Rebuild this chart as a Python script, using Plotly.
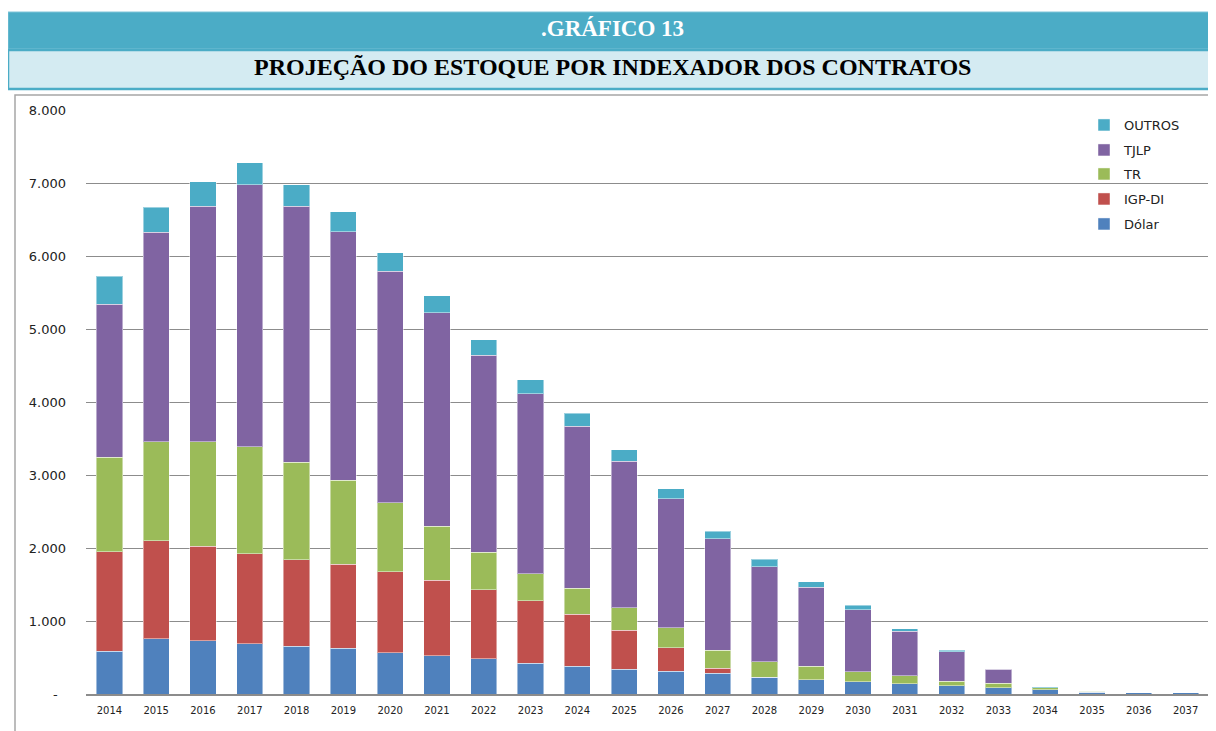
import plotly.graph_objects as go

years = [str(y) for y in range(2014, 2038)]

dolar  = [587, 760, 728, 687, 656, 628, 568, 527, 482, 423, 383, 342, 309, 281, 232, 197, 169, 142, 112, 86, 57, 27, 15, 15]
igp_di = [1361, 1338, 1298, 1234, 1183, 1148, 1107, 1030, 947, 856, 710, 532, 328, 69, 0, 0, 0, 0, 0, 0, 0, 0, 0, 0]
tr     = [1298, 1357, 1429, 1466, 1339, 1152, 948, 742, 511, 371, 353, 309, 273, 246, 209, 184, 138, 110, 63, 61, 30, 13, 0, 0]
tjlp   = [2094, 2869, 3224, 3588, 3501, 3405, 3168, 2924, 2699, 2466, 2224, 2004, 1767, 1530, 1302, 1082, 849, 605, 407, 189, 2, 0, 0, 0]
outros = [383, 341, 337, 305, 296, 271, 251, 232, 211, 191, 173, 160, 137, 105, 105, 73, 59, 38, 20, 4, 1, 0, 0, 0]

series = [
    ("Dólar", dolar, "#4F81BD"),
    ("IGP-DI", igp_di, "#C0504D"),
    ("TR", tr, "#9BBB59"),
    ("TJLP", tjlp, "#8064A2"),
    ("OUTROS", outros, "#4BACC6"),
]

tick_vals = [0, 1000, 2000, 3000, 4000, 5000, 6000, 7000, 8000]
tick_text = ["-\u00a0\u00a0", "1.000", "2.000", "3.000", "4.000", "5.000", "6.000", "7.000", "8.000"]

# the page places the figure 8px from the top-left corner of the window
OFF = 8
W, H = 1216, 731
ML, MT = 86 - OFF, 110 - OFF
PW, PH = 1209 - 86, 694 - 110
MR = W - ML - PW
MB = H - MT - PH


def xp(px):
    return (px - OFF - ML) / PW


def yp(py):
    return (MT + PH - (py - OFF)) / PH


fig = go.Figure()

legend_y = {"OUTROS": 125, "TJLP": 150, "TR": 174, "IGP-DI": 199, "Dólar": 224}
legend_names = {"OUTROS": "legend", "TJLP": "legend2", "TR": "legend3", "IGP-DI": "legend4", "Dólar": "legend5"}

for name, vals, color in series:
    fig.add_trace(go.Bar(
        x=years, y=vals, name=name,
        marker=dict(color=color, line=dict(color="rgba(255,255,255,0.45)", width=1)),
        legend=legend_names[name],
    ))

legend_common = dict(
    bgcolor="rgba(0,0,0,0)", borderwidth=0,
    font=dict(family="DejaVu Sans", size=13, color="#222222"),
    xref="paper", yref="paper", xanchor="left", yanchor="middle",
)
layout_legends = {}
for name, key in legend_names.items():
    layout_legends[key] = dict(legend_common, x=xp(1084), y=yp(legend_y[name]))

shapes = [
    # top teal band
    dict(type="rect", xref="paper", yref="paper", x0=xp(8), x1=xp(1230), y0=yp(12), y1=yp(49),
         fillcolor="#4BACC6", line=dict(color="#7FC4D8", width=1), layer="below"),
    # light title band
    dict(type="rect", xref="paper", yref="paper", x0=xp(8), x1=xp(1230), y0=yp(50), y1=yp(89),
         fillcolor="#D4EBF2", line=dict(color="#4BACC6", width=2.5), layer="below"),
    # chart frame
    dict(type="rect", xref="paper", yref="paper", x0=xp(15), x1=xp(1209), y0=yp(95), y1=yp(745),
         fillcolor="rgba(0,0,0,0)", line=dict(color="#A6A6A6", width=1.5), layer="below"),
]

annotations = [
    dict(text="<b>.GRÁFICO 13</b>", xref="paper", yref="paper", x=xp(612), y=yp(29),
         xanchor="center", yanchor="middle", showarrow=False,
         font=dict(family="Liberation Serif", size=23, color="#FFFFFF")),
    dict(text="<b>PROJEÇÃO DO ESTOQUE POR INDEXADOR DOS CONTRATOS</b>", xref="paper", yref="paper",
         x=xp(612), y=yp(67), xanchor="center", yanchor="middle", showarrow=False,
         font=dict(family="Liberation Serif", size=24, color="#000000")),
]

fig.update_layout(
    width=W, height=H,
    margin=dict(l=ML, r=MR, t=MT, b=MB, pad=0),
    paper_bgcolor="white", plot_bgcolor="white",
    barmode="stack", bargap=0.44,
    showlegend=True,
    shapes=shapes, annotations=annotations,
    font=dict(family="DejaVu Sans", color="#222222"),
    **layout_legends,
)

fig.update_xaxes(
    type="category", showgrid=False, showline=True, linecolor="#8C8C8C", linewidth=1.5,
    ticks="", tickfont=dict(family="DejaVu Sans", size=10, color="#222222"),
    ticklabelstandoff=6,
)
fig.update_yaxes(
    range=[0, 8000], tickvals=tick_vals, ticktext=tick_text,
    showgrid=True, gridcolor="#8C8C8C", gridwidth=1.3, zeroline=False, showline=False,
    ticks="", tickfont=dict(family="DejaVu Sans", size=13, color="#222222"),
    ticklabelstandoff=19,
)

fig.write_html("out.html")
